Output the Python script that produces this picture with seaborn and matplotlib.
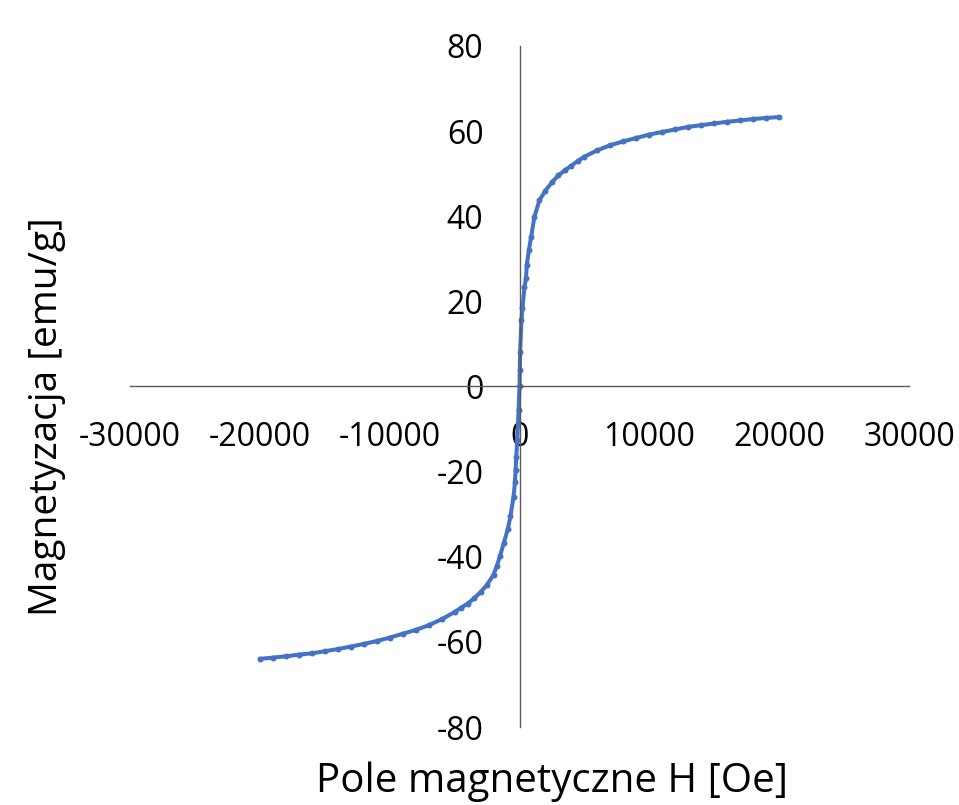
import matplotlib
matplotlib.use("Agg")
import matplotlib.pyplot as plt
import seaborn as sns
import pandas as pd

# Data (H in Oe, M in emu/g)
field_H = [-20000, -19000, -18000, -17000, -16000, -15000, -14000, -13000, -12000,
           -11000, -10000, -9000, -8000, -7000, -6000, -5000, -4500, -4000, -3500,
           -3000, -2500, -2000, -1750, -1500, -1200, -900, -700, -460, -350, -300, -250,
           -170, -70, 0, 20, 50, 150, 230, 385, 500, 560, 720, 900, 1150, 1540,
           2000, 2500, 3000, 3500, 4000, 4500, 5000, 6000, 7000, 8000, 9000, 10000,
           11000, 12000, 13000, 14000, 15000, 16000, 17000, 18000, 19000, 20000]
magnet_M = [-64.0, -63.7, -63.4, -63.0, -62.7, -62.2, -61.7, -61.1, -60.5,
            -59.8, -59.0, -58.1, -57.2, -56.1, -54.7, -53.0, -52.0, -51.0, -49.8,
            -48.3, -46.6, -44.2, -42.2, -39.8, -36.7, -33.5, -30.5, -25.9, -22.5, -19.6, -16.5,
            -12.6, -5.5, 0.0, 3.9, 8.2, 15.6, 18.4, 23.4, 25.5, 28.5, 32.0, 35.2, 39.9, 43.8,
            46.0, 48.0, 49.6, 50.8, 51.9, 53.0, 54.0, 55.5, 56.7, 57.6, 58.4, 59.2,
            59.8, 60.4, 61.0, 61.4, 61.8, 62.2, 62.5, 62.85, 63.1, 63.3]

x_ticks = [-30000, -20000, -10000, 0, 10000, 20000, 30000]
y_ticks = [-80, -60, -40, -20, 0, 20, 40, 60, 80]
x_label = "Pole magnetyczne H [Oe]"
y_label = "Magnetyzacja [emu/g]"

df = pd.DataFrame({"H": field_H, "M": magnet_M})

sns.set_theme(style="white")
plt.rcParams["font.family"] = ["Open Sans", "DejaVu Sans"]

fig = plt.figure(figsize=(9.59, 8.05), dpi=100)
ax = fig.add_axes([130 / 959, (805 - 727) / 805, 779 / 959, 681 / 805])

sns.lineplot(data=df, x="H", y="M", ax=ax, color="#4472C4", linewidth=2.9,
             marker="o", markersize=4.3, markeredgewidth=0, sort=False)

ax.set_xlim(-30000, 30000)
ax.set_ylim(-80, 80)
ax.set_xticks(x_ticks)
ax.set_yticks(y_ticks)
ax.set_xticklabels([str(v) for v in x_ticks])
ax.set_yticklabels([str(v) for v in y_ticks])

for side in ["top", "right"]:
    ax.spines[side].set_visible(False)
ax.spines["left"].set_position(("data", 0))
ax.spines["bottom"].set_position(("data", 0))
for side in ["left", "bottom"]:
    ax.spines[side].set_color("#595959")
    ax.spines[side].set_linewidth(1.0)

ax.tick_params(axis="both", length=0, labelsize=23, colors="black")
ax.tick_params(axis="x", pad=25)
ax.tick_params(axis="y", pad=26)

ax.set_xlabel(x_label, fontsize=29, color="black")
ax.set_ylabel(y_label, fontsize=28, color="black")
ax.xaxis.set_label_coords((552.5 - 130) / 779, (727 - 782) / 681)
ax.yaxis.set_label_coords((47 - 130) / 779, (727 - 416.5) / 681)
ax.xaxis.label.set_verticalalignment("center")
ax.yaxis.label.set_verticalalignment("center")
ax.grid(False)

fig.savefig("out.png", dpi=100)
